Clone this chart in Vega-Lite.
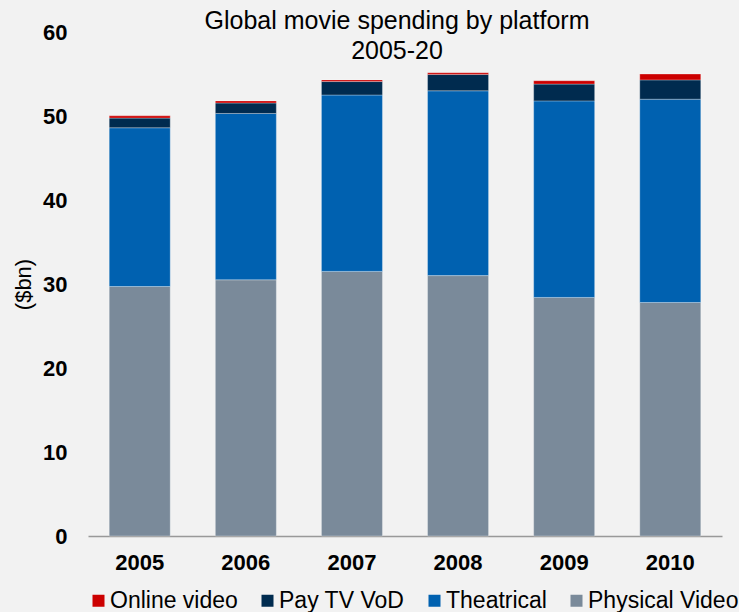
{
  "$schema": "https://vega.github.io/schema/vega-lite/v6.json",
  "autosize": {"type": "none"},
  "width": 634,
  "height": 504,
  "padding": {"left": 88, "top": 32, "right": 17, "bottom": 76},
  "background": "#f2f2f2",
  "config": {"view": {"stroke": null}},
  "title": {
    "text": ["Global movie spending by platform", "2005-20"],
    "font": "Liberation Sans",
    "fontSize": 25,
    "fontWeight": "normal",
    "color": "#000000",
    "lineHeight": 30,
    "anchor": "middle",
    "baseline": "top",
    "offset": -43,
    "dx": -8
  },
  "data": {
    "values": [
      {"year": "2005", "platform": "Physical Video", "value": 29.7},
      {"year": "2005", "platform": "Theatrical", "value": 18.9},
      {"year": "2005", "platform": "Pay TV VoD", "value": 1.15},
      {"year": "2005", "platform": "Online video", "value": 0.27},
      {"year": "2006", "platform": "Physical Video", "value": 30.5},
      {"year": "2006", "platform": "Theatrical", "value": 19.8},
      {"year": "2006", "platform": "Pay TV VoD", "value": 1.25},
      {"year": "2006", "platform": "Online video", "value": 0.25},
      {"year": "2007", "platform": "Physical Video", "value": 31.5},
      {"year": "2007", "platform": "Theatrical", "value": 21.0},
      {"year": "2007", "platform": "Pay TV VoD", "value": 1.6},
      {"year": "2007", "platform": "Online video", "value": 0.2},
      {"year": "2008", "platform": "Physical Video", "value": 31.0},
      {"year": "2008", "platform": "Theatrical", "value": 22.0},
      {"year": "2008", "platform": "Pay TV VoD", "value": 1.95},
      {"year": "2008", "platform": "Online video", "value": 0.2},
      {"year": "2009", "platform": "Physical Video", "value": 28.4},
      {"year": "2009", "platform": "Theatrical", "value": 23.4},
      {"year": "2009", "platform": "Pay TV VoD", "value": 2.0},
      {"year": "2009", "platform": "Online video", "value": 0.4},
      {"year": "2010", "platform": "Physical Video", "value": 27.8},
      {"year": "2010", "platform": "Theatrical", "value": 24.2},
      {"year": "2010", "platform": "Pay TV VoD", "value": 2.3},
      {"year": "2010", "platform": "Online video", "value": 0.7}
    ]
  },
  "transform": [
    {"calculate": "indexof(['Physical Video','Theatrical','Pay TV VoD','Online video'], datum.platform)", "as": "stackOrder"}
  ],
  "mark": {"type": "bar", "stroke": "#ffffff", "strokeWidth": 0.6, "strokeOpacity": 0.5},
  "encoding": {
    "x": {
      "field": "year",
      "type": "ordinal",
      "scale": {"paddingInner": 0.425, "paddingOuter": 0.2},
      "axis": {
        "title": null,
        "labelAngle": 0,
        "labelFont": "Liberation Sans",
        "labelFontSize": 22,
        "labelFontWeight": "bold",
        "labelColor": "#000000",
        "ticks": false,
        "domainColor": "#999999",
        "domainWidth": 1.5,
        "labelPadding": 16
      }
    },
    "y": {
      "field": "value",
      "type": "quantitative",
      "stack": "zero",
      "scale": {"domain": [0, 60]},
      "axis": {
        "title": "($bn)",
        "values": [0, 10, 20, 30, 40, 50, 60],
        "grid": false,
        "domain": false,
        "ticks": false,
        "labelFont": "Liberation Sans",
        "labelFontSize": 22,
        "labelFontWeight": "bold",
        "labelColor": "#000000",
        "labelPadding": 21,
        "titleFont": "Liberation Sans",
        "titleFontSize": 22,
        "titleFontWeight": "normal",
        "titleColor": "#000000",
        "titlePadding": 7
      }
    },
    "color": {
      "field": "platform",
      "type": "nominal",
      "scale": {
        "domain": ["Online video", "Pay TV VoD", "Theatrical", "Physical Video"],
        "range": ["#cc0000", "#002b4f", "#0061b0", "#7a8a9a"]
      },
      "legend": {
        "title": null,
        "orient": "none",
        "direction": "horizontal",
        "legendX": -1,
        "legendY": 557,
        "symbolType": "square",
        "symbolSize": 144,
        "symbolStrokeWidth": 0,
        "labelFont": "Liberation Sans",
        "labelFontSize": 23,
        "labelColor": "#000000",
        "labelOffset": 0,
        "columnPadding": 18
      }
    },
    "order": {"field": "stackOrder", "type": "quantitative"}
  }
}
